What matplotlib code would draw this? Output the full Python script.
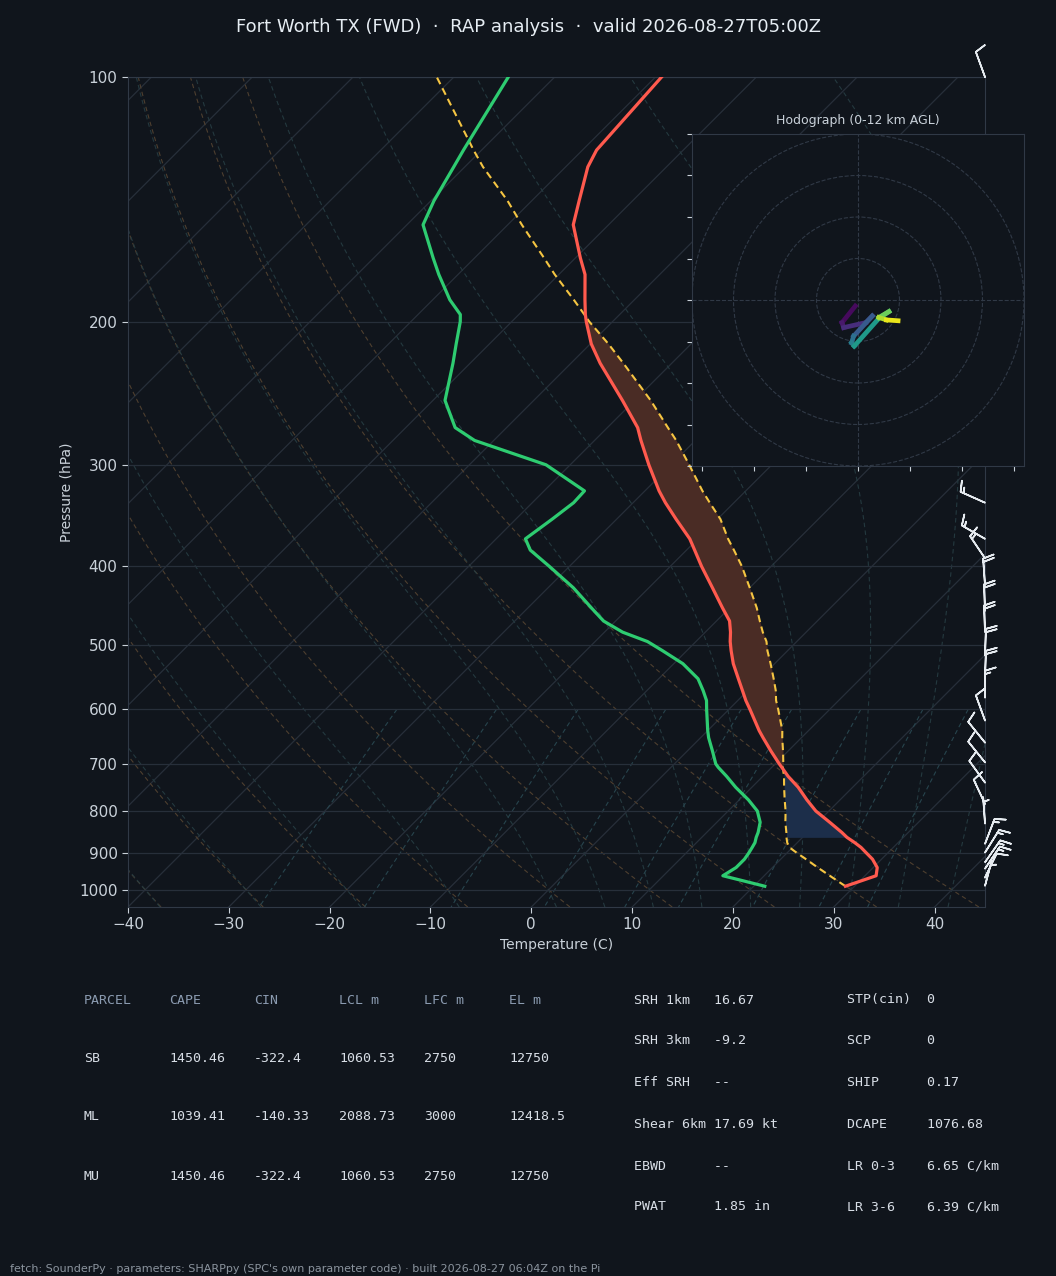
import numpy as np
import matplotlib
matplotlib.use("Agg")
import matplotlib.pyplot as plt
import matplotlib.transforms as mtransforms
from matplotlib.collections import LineCollection
from matplotlib.colors import Normalize
from matplotlib.patches import Circle
from matplotlib.ticker import MultipleLocator, NullLocator

# ---------------- data ----------------
pressure_hpa = np.array([990, 961, 939, 917, 900, 887, 875, 862, 850, 826, 800, 775, 748, 725,
                         707, 700, 675, 650, 637, 600, 585, 569, 550, 527, 508, 495, 482, 467,
                         450, 425, 400, 382, 370, 350, 334, 323, 300, 280, 270, 250, 225, 213,
                         200, 196, 188, 175, 167, 152, 142, 129, 123, 100])
temperature_c = np.array([29.1, 31.1, 30.4, 29.1, 27.8, 26.8, 25.7, 24.4, 23.4, 21.2, 18.7, 16.7,
                          14.6, 12.5, 11.0, 10.4, 8.3, 6.2, 5.1, 2.1, 0.8, -0.5, -2.1, -4.1, -5.6,
                          -6.6, -7.5, -8.7, -10.7, -13.7, -16.9, -19.2, -20.8, -24.1, -26.8, -28.6,
                          -32.2, -35.4, -37.0, -41.2, -47.1, -49.9, -52.6, -53.4, -54.9, -57.4,
                          -59.5, -63.5, -65.3, -67.8, -68.6, -69.4])
dewpoint_c = np.array([21.1, 15.9, 16.4, 16.4, 16.2, 16.0, 15.8, 15.4, 15.1, 14.3, 12.9, 10.9,
                       8.4, 6.4, 4.7, 4.1, 2.5, 0.8, 0.0, -2.2, -3.1, -4.4, -6.1, -9.1, -12.4,
                       -14.8, -18.2, -21.2, -23.7, -27.5, -32.0, -35.5, -37.1, -36.4, -35.9, -36.0,
                       -42.4, -51.9, -55.1, -58.8, -61.7, -63.3, -65.1, -65.8, -68.3, -71.9,
                       -74.1, -78.4, -79.7, -81.1, -81.8, -84.6])
parcel_c = np.array([29.1, 26.5, 24.5, 22.5, 20.9, 19.7, 19.0, 18.4, 17.9, 16.8, 15.7, 14.5,
                     13.2, 12.1, 11.1, 10.8, 9.5, 8.1, 7.4, 4.9, 3.8, 2.8, 1.4, -0.4, -2.0,
                     -3.0, -4.3, -5.7, -7.3, -10.0, -12.9, -15.3, -17.0, -19.7, -22.4, -24.3,
                     -28.2, -31.9, -34.0, -38.4, -44.8, -48.2, -52.3, -53.5, -56.0, -60.4,
                     -63.1, -68.6, -72.4, -78.2, -80.8, -91.7])
cin_shade_bottom_hpa = 862
cin_shade_top_hpa = 700

barb_pressure_hpa = np.array([100, 150, 200, 250, 300, 334, 370, 391, 422, 454, 482, 515, 548,
                              580, 619, 659, 697, 738, 784, 829, 878, 900, 925, 942, 966, 989])
barb_dir_deg = np.array([340, 290, 295, 300, 295, 294, 300, 326, 356, 358, 358, 2, 2,
                         0, 340, 321, 321, 324, 335, 356, 21, 32, 35, 34, 26, 15])
barb_speed_kt = np.array([10, 20, 20, 20, 15, 15, 15, 15, 20, 20, 20, 20, 20,
                          15, 10, 10, 10, 10, 10, 5, 15, 15, 15, 15, 10, 5])

hodo_height_km = np.array([0.0, 0.6, 1.0, 2.0, 2.8, 4.0, 4.8, 5.4, 7.5, 8.8, 9.8, 11.2, 12.0])
hodo_u_kt = np.array([-1.3, -7.7, -6.9, 3.7, 6.9, -2.1, -3.1, -1.8, 10.1, 14.9, 10.1, 13.7, 19.3])
hodo_v_kt = np.array([-2.9, -10.9, -13.3, -10.9, -7.7, -17.4, -20.6, -22.2, -8.8, -5.6, -8.4, -9.6, -10.0])
hodo_rings_kt = [20, 40, 60, 80]

y_ticks_hpa = [100, 200, 300, 400, 500, 600, 700, 800, 900, 1000]
x_ticks_c = list(range(-40, 41, 10))

title_text = "Fort Worth TX (FWD)  \u00b7  RAP analysis  \u00b7  valid 2026-08-27T05:00Z"
hodo_title = "Hodograph (0-12 km AGL)"
table_header = ["PARCEL", "CAPE", "CIN", "LCL m", "LFC m", "EL m"]
table_rows = [["SB", "1450.46", "-322.4", "1060.53", "2750", "12750"],
              ["ML", "1039.41", "-140.33", "2088.73", "3000", "12418.5"],
              ["MU", "1450.46", "-322.4", "1060.53", "2750", "12750"]]
stats_left = [("SRH 1km", "16.67"), ("SRH 3km", "-9.2"), ("Eff SRH", "--"),
              ("Shear 6km", "17.69 kt"), ("EBWD", "--"), ("PWAT", "1.85 in")]
stats_right = [("STP(cin)", "0"), ("SCP", "0"), ("SHIP", "0.17"),
               ("DCAPE", "1076.68"), ("LR 0-3", "6.65 C/km"), ("LR 3-6", "6.39 C/km")]
footer_text = ("fetch: SounderPy \u00b7 parameters: SHARPpy (SPC's own parameter code) "
               "\u00b7 built 2026-08-27 06:04Z on the Pi")

# ---------------- style ----------------
BG = "#10151c"
GRID = "#272f3a"
SPINE = "#303946"
TXT = "#c9d1d9"
RED = "#ff5a4e"
GREEN = "#2ecc71"
YELLOW = "#f5c542"
CAPE_C = "#4a2c25"
CIN_C = "#1c2e4a"
DRY_C = "#4e3f2f"
MOIST_C = "#24393f"
MIX_C = "#27444d"

FW, FH = 1056, 1276
fig = plt.figure(figsize=(FW / 100, FH / 100), dpi=100, facecolor=BG)


def frac_box(x0, y0, x1, y1):
    return [x0 / FW, 1 - y1 / FH, (x1 - x0) / FW, (y1 - y0) / FH]


AX_L, AX_T, AX_R, AX_B = 128, 77, 985, 907
ax = fig.add_axes(frac_box(AX_L, AX_T, AX_R, AX_B), facecolor=BG)
ax.set_yscale("log")
ax.set_xlim(-40, 45)
ax.set_ylim(1050, 100)
ax.set_autoscale_on(False)

# skew transform: 45 degrees on screen
skew = mtransforms.Affine2D().skew(np.arctan((AX_B - AX_T) / (AX_R - AX_L)), 0)
tr = ax.transScale + ax.transLimits + skew + ax.transAxes

# isotherms
for t0 in np.arange(-130, 46, 10):
    ax.plot([t0, t0], [1050, 100], transform=tr, color=GRID, lw=0.9, zorder=1)

# dry adiabats
p_bg = np.linspace(1050, 100, 191)
for t0 in np.arange(-40, 46, 10):
    td = (t0 + 273.15) * (p_bg / 1000.0) ** 0.2857 - 273.15
    ax.plot(td, p_bg, transform=tr, color=DRY_C, lw=0.8, ls=(0, (4, 3)), zorder=1)

# moist adiabats (pseudo-adiabatic, RK4)
Rd, Lv, Cp, eps = 287.04749, 2.50084e6, 1004.6662, 0.6219569


def sat_vp(tk):
    return 6.112 * np.exp(17.67 * (tk - 273.15) / (tk - 29.65))


def dtdp(p, tk):
    e = sat_vp(tk)
    rs = eps * e / (p - e)
    return (Rd * tk + Lv * rs) / (Cp + Lv * Lv * rs * eps / (Rd * tk * tk)) / p


moist_t0 = np.concatenate((np.arange(-40, 0, 10), np.arange(0, 46, 5))).astype(float)
Tm = np.zeros((len(moist_t0), len(p_bg)))
i0 = int(np.argmin(np.abs(p_bg - 1000)))
Tm[:, i0] = moist_t0 + 273.15


def rk4(p, tk, h):
    k1 = dtdp(p, tk)
    k2 = dtdp(p + h / 2, tk + h / 2 * k1)
    k3 = dtdp(p + h / 2, tk + h / 2 * k2)
    k4 = dtdp(p + h, tk + h * k3)
    return tk + h / 6 * (k1 + 2 * k2 + 2 * k3 + k4)


for i in range(i0, len(p_bg) - 1):
    Tm[:, i + 1] = rk4(p_bg[i], Tm[:, i], p_bg[i + 1] - p_bg[i])
for i in range(i0, 0, -1):
    Tm[:, i - 1] = rk4(p_bg[i], Tm[:, i], p_bg[i - 1] - p_bg[i])
for row in Tm:
    ax.plot(row - 273.15, p_bg, transform=tr, color=MOIST_C, lw=0.8, ls=(0, (4, 3)), zorder=1)

# mixing ratio lines
p_mix = np.linspace(600, 1050, 60)
for w in [0.0004, 0.001, 0.002, 0.004, 0.007, 0.01, 0.016, 0.024, 0.032]:
    e = p_mix * w / (eps + w)
    lg = np.log(e / 6.112)
    tdw = 243.5 * lg / (17.67 - lg)
    ax.plot(tdw, p_mix, transform=tr, color=MIX_C, lw=0.8, ls=(0, (4, 3)), zorder=1)

# CAPE / CIN shading
ax.fill_betweenx(pressure_hpa, temperature_c, parcel_c, where=parcel_c > temperature_c,
                 interpolate=True, transform=tr, color=CAPE_C, lw=0, zorder=2)
sl = (pressure_hpa <= cin_shade_bottom_hpa) & (pressure_hpa >= cin_shade_top_hpa)
ps, ts, pcs = pressure_hpa[sl], temperature_c[sl], parcel_c[sl]
ax.fill_betweenx(ps, ts, pcs, where=pcs < ts, interpolate=True, transform=tr,
                 color=CIN_C, lw=0, zorder=2)

# profiles
ax.plot(parcel_c, pressure_hpa, transform=tr, color=YELLOW, lw=1.5, ls=(0, (3.5, 2.2)), zorder=4)
ax.plot(temperature_c, pressure_hpa, transform=tr, color=RED, lw=2.3, zorder=5)
ax.plot(dewpoint_c, pressure_hpa, transform=tr, color=GREEN, lw=2.3, zorder=5)

# wind barbs on right edge
bu = -barb_speed_kt * np.sin(np.radians(barb_dir_deg))
bv = -barb_speed_kt * np.cos(np.radians(barb_dir_deg))
btr = mtransforms.blended_transform_factory(ax.transAxes, ax.transData)
ax.barbs(np.ones(len(barb_pressure_hpa)), barb_pressure_hpa, bu, bv, transform=btr,
         clip_on=False, length=6.2, color="#e6ebf0", linewidth=1.2, zorder=6)

# axes cosmetics
ax.set_yticks(y_ticks_hpa, [str(v) for v in y_ticks_hpa])
ax.yaxis.set_minor_locator(NullLocator())
ax.set_xticks(x_ticks_c)
ax.yaxis.grid(True, color=GRID, lw=0.9)
ax.tick_params(colors=TXT, labelsize=11, length=4)
for s in ax.spines.values():
    s.set_color(SPINE)
ax.set_xlabel("Temperature (C)", color=TXT, fontsize=10)
ax.set_ylabel("Pressure (hPa)", color=TXT, fontsize=10)

# hodograph inset
hax = fig.add_axes(frac_box(692, 134, 1024, 466), facecolor=BG)
hax.set_xlim(-80, 80)
hax.set_ylim(-80, 80)
for r in hodo_rings_kt:
    hax.add_patch(Circle((0, 0), r, fill=False, ls="--", color=SPINE, lw=0.8))
hax.axhline(0, color=SPINE, ls="--", lw=0.8)
hax.axvline(0, color=SPINE, ls="--", lw=0.8)
pts = np.column_stack([hodo_u_kt, hodo_v_kt])
segs = np.stack([pts[:-1], pts[1:]], axis=1)
lc = LineCollection(segs, cmap="viridis", norm=Normalize(0, 12), linewidths=3.4,
                    capstyle="projecting", joinstyle="round")
lc.set_array((hodo_height_km[:-1] + hodo_height_km[1:]) / 2)
hax.add_collection(lc)
hax.xaxis.set_major_locator(MultipleLocator(25))
hax.yaxis.set_major_locator(MultipleLocator(20))
hax.tick_params(labelleft=False, labelbottom=False, colors=TXT, length=3.5)
for s in hax.spines.values():
    s.set_color(SPINE)
hax.set_title(hodo_title, color=TXT, fontsize=9, pad=7)

# title / footer
fig.text(0.5, 1 - 27 / FH, title_text, ha="center", va="center", color="#e6edf3", fontsize=13)
fig.text(10 / FW, 1 - 1269 / FH, footer_text, ha="left", va="center", color="#8b949e", fontsize=8)

# parcel table
MONO = "DejaVu Sans Mono"
col_x = [84, 169, 254, 339, 424, 509]
row_y = [1000, 1058, 1117, 1176]
for j, h in enumerate(table_header):
    fig.text(col_x[j] / FW, 1 - row_y[0] / FH, h, family=MONO, fontsize=9.5,
             color="#8b9bb0", ha="left", va="center")
for i, row in enumerate(table_rows):
    for j, cell in enumerate(row):
        fig.text(col_x[j] / FW, 1 - row_y[i + 1] / FH, cell, family=MONO, fontsize=9.5,
                 color="#d8dee6", ha="left", va="center")

# stats block
stat_y = [1000, 1041, 1083, 1124, 1166, 1207]
for k, (lab, val) in enumerate(stats_left):
    fig.text(634 / FW, 1 - stat_y[k] / FH, f"{lab:<10}{val}", family=MONO, fontsize=9.5,
             color="#d8dee6", ha="left", va="center")
for k, (lab, val) in enumerate(stats_right):
    fig.text(847 / FW, 1 - stat_y[k] / FH, f"{lab:<10}{val}", family=MONO, fontsize=9.5,
             color="#d8dee6", ha="left", va="center")

fig.savefig("out.png", dpi=100, facecolor=BG)
